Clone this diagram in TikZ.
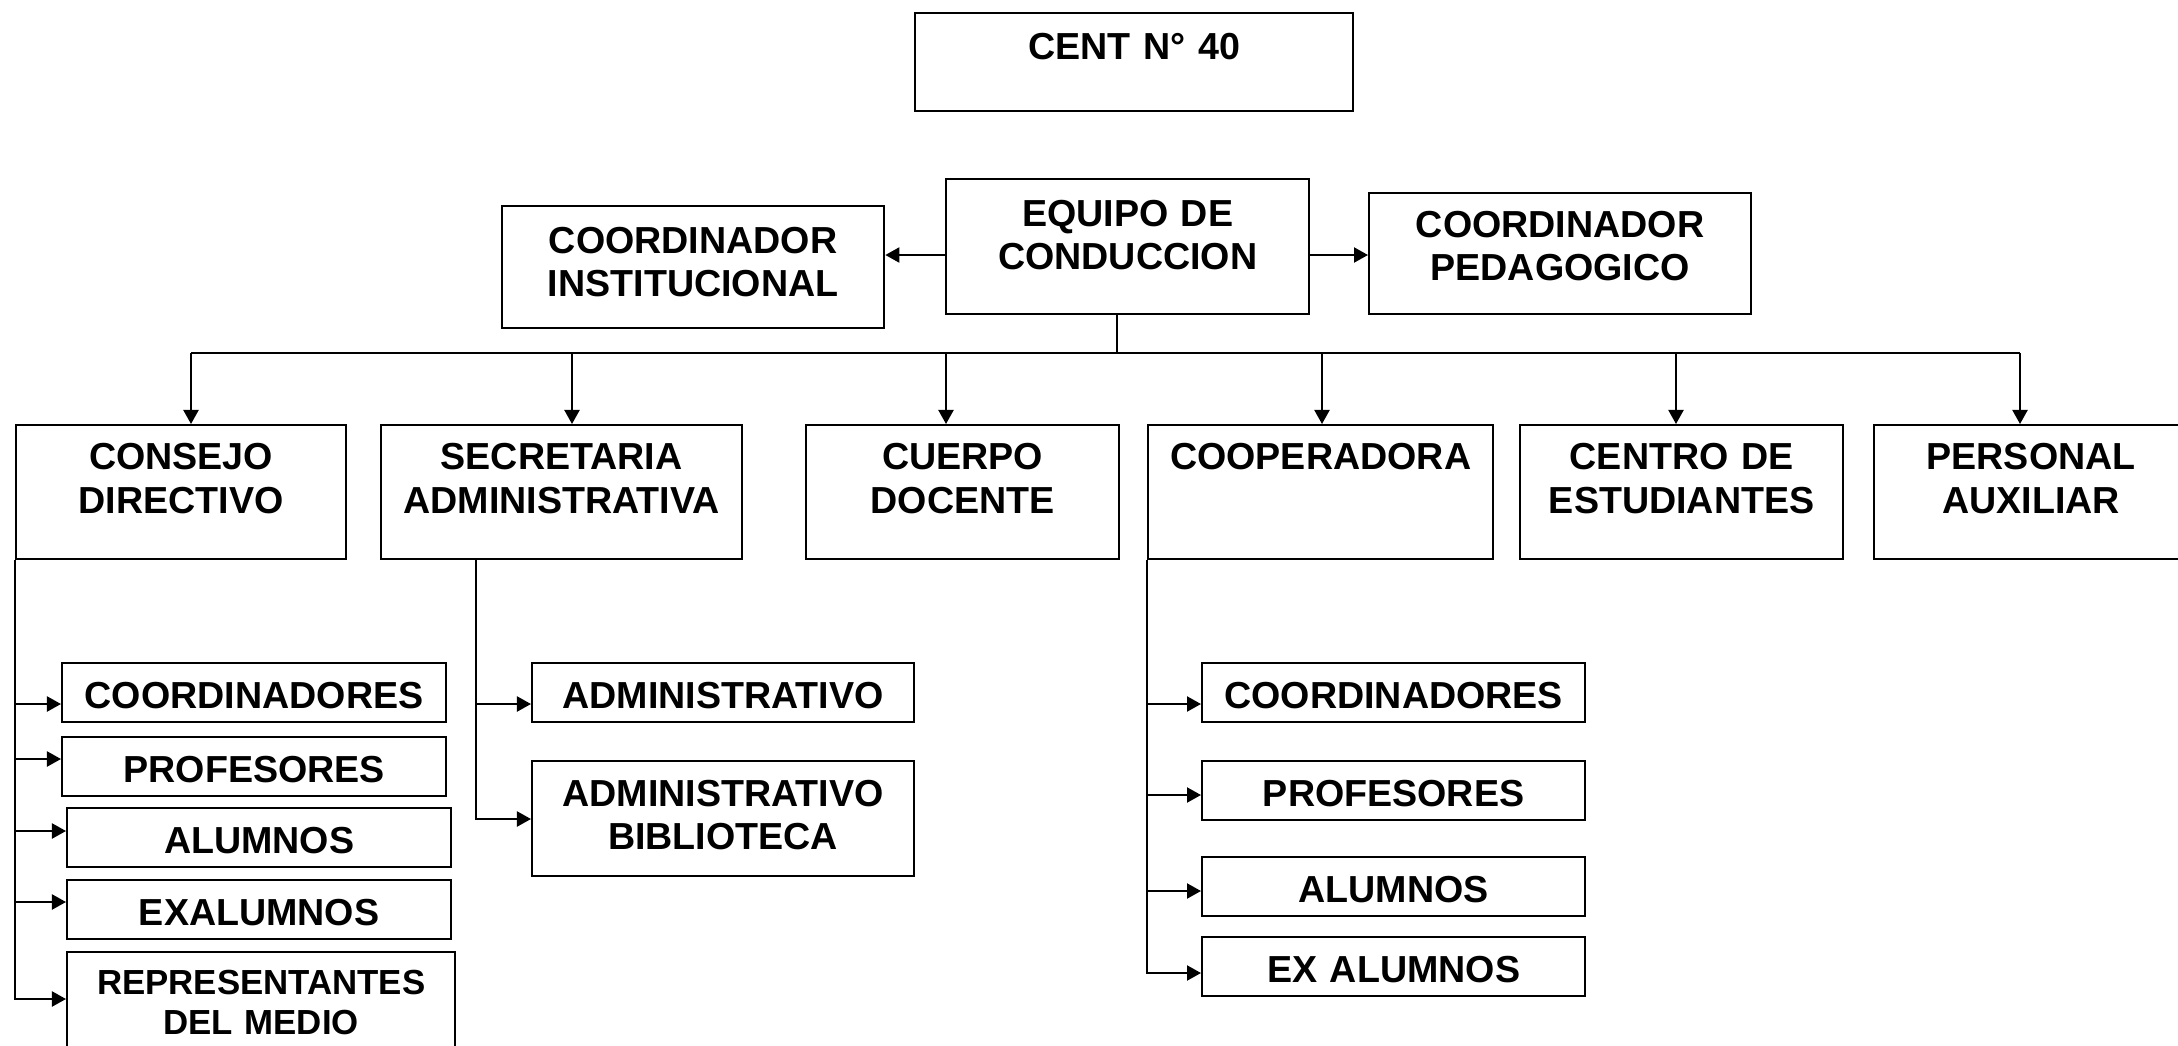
\documentclass[tikz,border=0pt]{standalone}
\usepackage{fontspec}
\setmainfont{Liberation Sans}
\usetikzlibrary{arrows.meta}
\begin{document}
\begin{tikzpicture}[>={Triangle[length=0.14cm,width=0.15cm]}, x=0.01cm, y=-0.01cm, semithick,
  box/.style={draw, inner sep=0pt, anchor=north west, align=center, font=\bfseries\fontsize{10.7}{12.3}\selectfont},
  rowbox/.style={box, text height=0.448cm, text depth=0.892cm},
  small/.style={box, text height=0.45cm, text depth=0.137cm}]
\useasboundingbox (0,0) rectangle (2178,1045);
% top
\node[box, text width=4.38cm, text height=0.46cm, text depth=0.52cm] (cent) at (914,12) {CENT N° 40};
\node[box, text width=3.82cm, text height=0.47cm, text depth=0.75cm] (inst) at (501,205) {COORDINADOR\\INSTITUCIONAL};
\node[box, text width=3.63cm, text height=0.475cm, text depth=0.875cm] (equipo) at (945,178) {EQUIPO DE\\CONDUCCION};
\node[box, text width=3.82cm, text height=0.44cm, text depth=0.77cm] (ped) at (1368,192) {COORDINADOR\\PEDAGOGICO};
% second row
\node[rowbox, text width=3.30cm] (cons) at (15,424) {CONSEJO\\DIRECTIVO};
\node[rowbox, text width=3.61cm] (secr) at (380,424) {SECRETARIA\\ADMINISTRATIVA};
\node[rowbox, text width=3.13cm] (cuer) at (805,424) {CUERPO\\DOCENTE};
\node[rowbox, text width=3.45cm] (coop) at (1147,424) {COOPERADORA};
\node[rowbox, text width=3.23cm] (cest) at (1519,424) {CENTRO DE\\ESTUDIANTES};
\node[rowbox, text width=3.14cm] (pers) at (1873,424) {PERSONAL\\AUXILIAR};
% consejo
\node[small, text width=3.84cm] (cd1) at (61,662) {COORDINADORES};
\node[small, text width=3.84cm] (pr1) at (61,736) {PROFESORES};
\node[small, text width=3.84cm] (al1) at (66,807) {ALUMNOS};
\node[small, text width=3.84cm] (ex1) at (66,879) {EXALUMNOS};
\node[box, text width=3.88cm, text height=0.425cm, text depth=0.705cm, font=\bfseries\fontsize{9.9}{11.4}\selectfont] (rep) at (66,951) {REPRESENTANTES\\DEL MEDIO};
% secretaria
\node[small, text width=3.82cm] (adm) at (531,662) {ADMINISTRATIVO};
\node[box, text width=3.82cm, text height=0.45cm, text depth=0.70cm] (bib) at (531,760) {ADMINISTRATIVO\\BIBLIOTECA};
% cooperadora
\node[small, text width=3.83cm] (cd2) at (1201,662) {COORDINADORES};
\node[small, text width=3.83cm] (pr2) at (1201,760) {PROFESORES};
\node[small, text width=3.83cm] (al2) at (1201,856) {ALUMNOS};
\node[small, text width=3.83cm] (ex2) at (1201,936) {EX ALUMNOS};

\draw[->] (equipo.west |- 0,255) -- (inst.east |- 0,255);
\draw[->] (equipo.east |- 0,255) -- (ped.west |- 0,255);
\coordinate (bus) at (1117,353);
\draw (equipo.south -| bus) -- (bus);
\foreach \i/\x in {1/191,2/572,3/946,4/1322,5/1676,6/2020}
  \coordinate (d\i) at (\x,353);
\draw (d1) -- (d6);
\foreach \i/\n in {1/cons,2/secr,3/cuer,4/coop,5/cest,6/pers}
  \draw[->] (d\i) -- (d\i |- \n.north);

\draw[->] (cons.south west) |- (rep.west |- 0,999);
\foreach \n/\y in {cd1/704,pr1/759,al1/831,ex1/902}
  \draw[->] (cons.south west |- 0,\y) -- (\n.west |- 0,\y);
\draw[->] (476,0 |- secr.south) |- (bib.west |- 0,819);
\draw[->] (476,704) -- (adm.west |- 0,704);
\draw[->] (coop.south west) |- (ex2.west |- 0,973);
\foreach \n/\y in {cd2/704,pr2/795,al2/891}
  \draw[->] (coop.south west |- 0,\y) -- (\n.west |- 0,\y);
\end{tikzpicture}
\end{document}
